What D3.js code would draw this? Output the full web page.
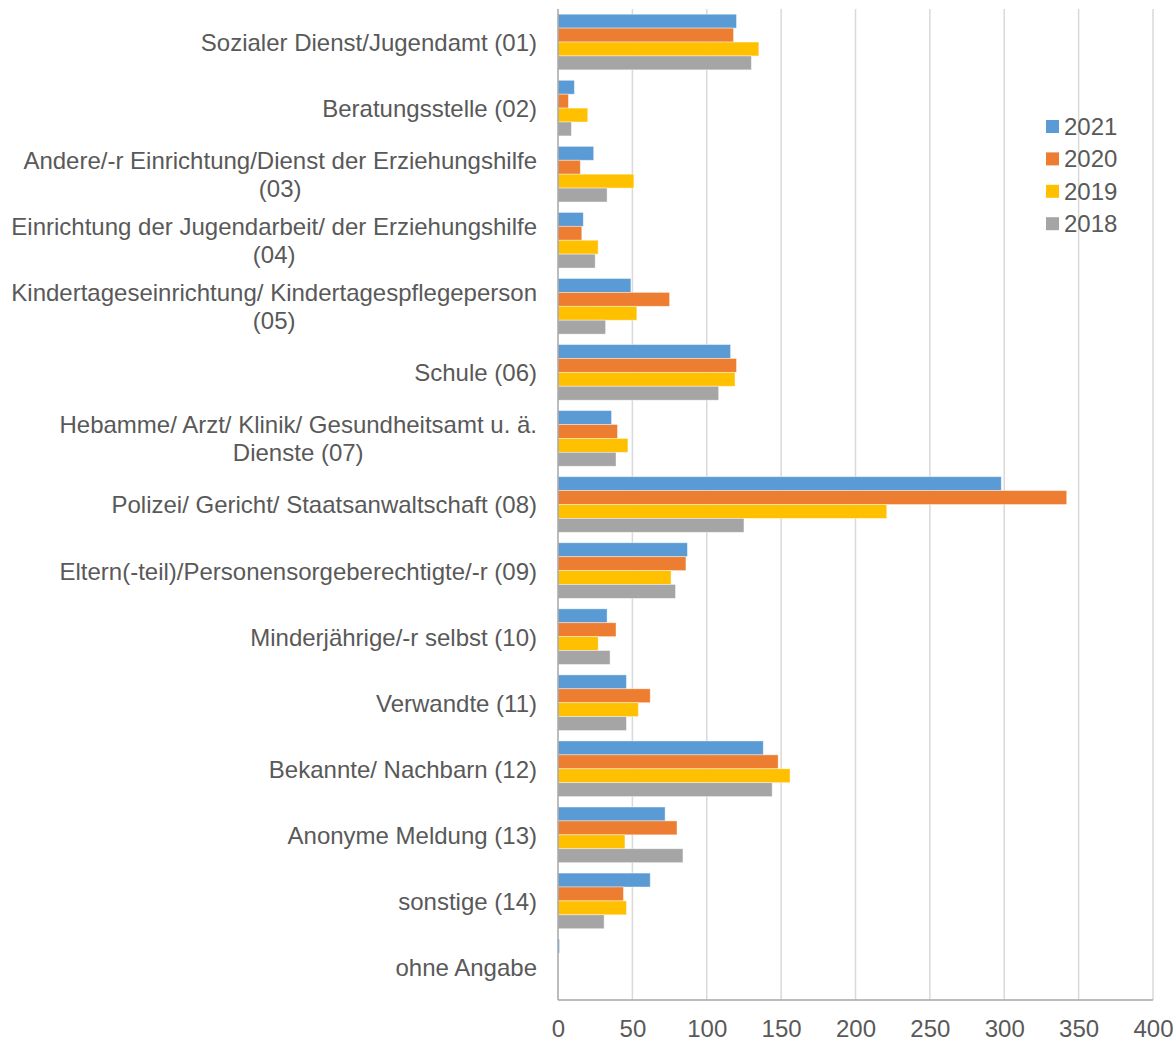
<!DOCTYPE html>
<html>
<head>
<meta charset="utf-8">
<script src="https://cdn.jsdelivr.net/npm/d3@7"></script>
<style>
  body { margin: 0; background: #fff; }
  text { font-family: "Liberation Sans", Arial, sans-serif; fill: #595959; }
</style>
</head>
<body>
<div id="chart"></div>
<script>
// categories (line breaks as in the original wrapped labels)
var categories = [
  "Sozialer Dienst/Jugendamt (01)",
  "Beratungsstelle (02)",
  "Andere/-r Einrichtung/Dienst der Erziehungshilfe\n(03)",
  "Einrichtung der Jugendarbeit/ der Erziehungshilfe\n(04)",
  "Kindertageseinrichtung/ Kindertagespflegeperson\n(05)",
  "Schule (06)",
  "Hebamme/ Arzt/ Klinik/ Gesundheitsamt u. ä.\nDienste (07)",
  "Polizei/ Gericht/ Staatsanwaltschaft (08)",
  "Eltern(-teil)/Personensorgeberechtigte/-r (09)",
  "Minderjährige/-r selbst (10)",
  "Verwandte (11)",
  "Bekannte/ Nachbarn (12)",
  "Anonyme Meldung (13)",
  "sonstige (14)",
  "ohne Angabe"
];

var seriesNames = ["2021", "2020", "2019", "2018"];
var seriesColors = ["#5B9BD5", "#ED7D31", "#FFC000", "#A5A5A5"];

var values2021 = [120, 11, 24, 17, 49, 116, 36, 298, 87, 33, 46, 138, 72, 62, 1];
var values2020 = [118, 7, 15, 16, 75, 120, 40, 342, 86, 39, 62, 148, 80, 44, 0];
var values2019 = [135, 20, 51, 27, 53, 119, 47, 221, 76, 27, 54, 156, 45, 46, 0];
var values2018 = [130, 9, 33, 25, 32, 108, 39, 125, 79, 35, 46, 144, 84, 31, 0];

var xTicks = [0, 50, 100, 150, 200, 250, 300, 350, 400];

var allValues = [values2021, values2020, values2019, values2018];

var svgWidth = 1176;
var svgHeight = 1042;

var margin = { top: 9, right: 23, bottom: 42, left: 558 };
var chartWidth = svgWidth - margin.left - margin.right;
var chartHeight = svgHeight - margin.top - margin.bottom;

var svg = d3.select("#chart").append("svg")
  .attr("width", svgWidth)
  .attr("height", svgHeight);

var chartGroup = svg.append("g")
  .attr("transform", `translate(${margin.left}, ${margin.top})`);

var xScale = d3.scaleLinear()
  .domain([0, 400])
  .range([0, chartWidth]);

var yScale = d3.scaleBand()
  .domain(d3.range(categories.length))
  .range([0, chartHeight]);

// bars inside one category
var y1Scale = d3.scaleBand()
  .domain(seriesNames)
  .range([yScale.bandwidth() * 0.079, yScale.bandwidth() * 0.921]);

// gridlines
chartGroup.selectAll(".grid")
  .data(xTicks.slice(1))
  .enter().append("line")
  .attr("class", "grid")
  .attr("x1", d => xScale(d))
  .attr("x2", d => xScale(d))
  .attr("y1", 0)
  .attr("y2", chartHeight)
  .attr("stroke", "#D9D9D9")
  .attr("stroke-width", 1.5);

// bars
var groups = chartGroup.selectAll(".cat")
  .data(categories)
  .enter().append("g")
  .attr("class", "cat")
  .attr("transform", (d, i) => `translate(0, ${yScale(i)})`);

groups.each(function(c, i) {
  d3.select(this).selectAll("rect")
    .data(seriesNames)
    .enter().append("rect")
    .attr("x", 0)
    .attr("y", s => y1Scale(s))
    .attr("width", (s, j) => xScale(allValues[j][i]))
    .attr("height", y1Scale.bandwidth())
    .attr("fill", (s, j) => seriesColors[j])
    .attr("stroke", "#fff")
    .attr("stroke-opacity", 0.5)
    .attr("stroke-width", 0.8);
});

// axis lines
chartGroup.append("line")
  .attr("x1", 0).attr("x2", 0)
  .attr("y1", 0).attr("y2", chartHeight)
  .attr("stroke", "#A6A6A6")
  .attr("stroke-width", 1.5);

chartGroup.append("line")
  .attr("x1", 0).attr("x2", chartWidth)
  .attr("y1", chartHeight).attr("y2", chartHeight)
  .attr("stroke", "#A6A6A6")
  .attr("stroke-width", 1.5);

// x tick labels
var bottomAxis = d3.axisBottom(xScale)
  .tickValues(xTicks)
  .tickSize(0)
  .tickPadding(20);

var xAxisG = chartGroup.append("g")
  .attr("transform", `translate(0, ${chartHeight})`)
  .call(bottomAxis);
xAxisG.select(".domain").remove();
xAxisG.selectAll("text")
  .attr("font-size", 24)
  .attr("fill", "#595959")
  .attr("font-family", "Liberation Sans, Arial, sans-serif");

// category labels: block right aligned, lines centred
var labelRight = -21;
var lineHeight = 28;

groups.each(function(c, i) {
  var lines = c.split("\n");
  var g = d3.select(this);
  var t = g.append("text")
    .attr("font-size", 24)
    .attr("text-anchor", "middle")
    .attr("dominant-baseline", "central");
  lines.forEach(function(line, k) {
    t.append("tspan")
      .attr("x", 0)
      .attr("y", yScale.bandwidth() / 2 + (k - (lines.length - 1) / 2) * lineHeight)
      .text(line);
  });
  var w = d3.max(t.selectAll("tspan").nodes(), n => n.getComputedTextLength());
  t.selectAll("tspan").attr("x", labelRight - w / 2);
});

// legend
var legend = svg.append("g")
  .attr("transform", "translate(1046, 120)");

legend.selectAll("rect")
  .data(seriesNames)
  .enter().append("rect")
  .attr("x", 0)
  .attr("y", (d, i) => i * 32.4)
  .attr("width", 13)
  .attr("height", 13)
  .attr("fill", (d, i) => seriesColors[i]);

legend.selectAll("text")
  .data(seriesNames)
  .enter().append("text")
  .attr("x", 18)
  .attr("y", (d, i) => i * 32.4 + 6.5)
  .attr("dominant-baseline", "central")
  .attr("font-size", 24)
  .text(d => d);
</script>
</body>
</html>
